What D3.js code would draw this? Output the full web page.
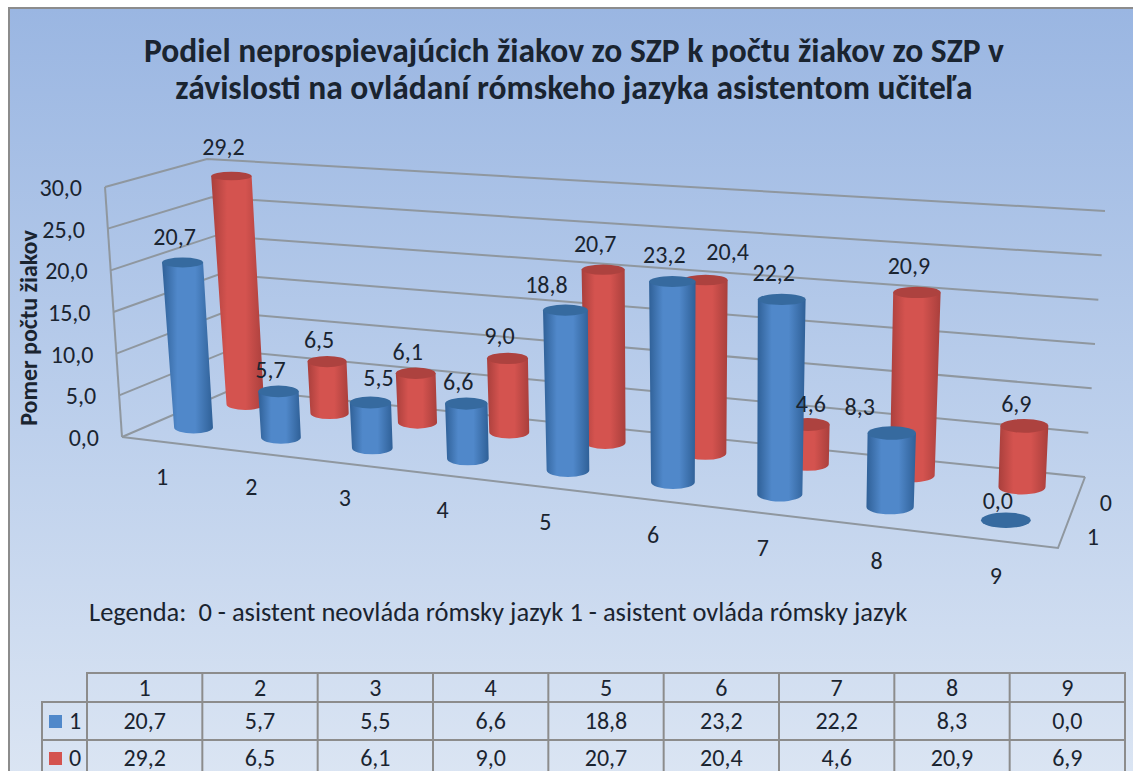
<!DOCTYPE html>
<html>
<head>
<meta charset="utf-8">
<script src="https://cdn.jsdelivr.net/npm/d3@7"></script>
<style>
html, body { margin: 0; padding: 0; background: #fff; }
svg { display: block; }
text { font-family: Carlito, "Open Sans", "Noto Sans", sans-serif; fill: #1a2430; }
</style>
</head>
<body>
<div id="chart"></div>
<script>
let categories = ["1", "2", "3", "4", "5", "6", "7", "8", "9"]
let seriesNames = ["1", "0"]
let values1 = [20.7, 5.7, 5.5, 6.6, 18.8, 23.2, 22.2, 8.3, 0.0]
let values0 = [29.2, 6.5, 6.1, 9.0, 20.7, 20.4, 4.6, 20.9, 6.9]
let valueTicks = [0, 5, 10, 15, 20, 25, 30]
let titleLines = [
	"Podiel neprospievajúcich žiakov zo SZP k počtu žiakov zo SZP v",
	"závislosti na ovládaní rómskeho jazyka asistentom učiteľa"
]
let yTitle = "Pomer počtu žiakov"
let legendText = "Legenda:  0 - asistent neovláda rómsky jazyk 1 - asistent ovláda rómsky jazyk"

let w = 1133
let h = 771
let fmt = v => v.toFixed(1).replace(".", ",")

let svg = d3.select("#chart").append("svg").attr("width", w).attr("height", h)
let defs = svg.append("defs")

// background
let bg = defs.append("linearGradient").attr("id", "bg").attr("x1", 0).attr("x2", 0).attr("y1", 0).attr("y2", 1)
bg.append("stop").attr("offset", 0).attr("stop-color", "#9ab6e2")
bg.append("stop").attr("offset", 0.55).attr("stop-color", "#bdd0ec")
bg.append("stop").attr("offset", 1).attr("stop-color", "#dbe5f3")
svg.append("rect").attr("x", 9).attr("y", 8).attr("width", w).attr("height", h)
	.attr("fill", "url(#bg)").attr("stroke", "#8c8c8c").attr("stroke-width", 2)

// box corners: floor and the plane at the axis maximum
let floorCorners = [[122, 437], [1058, 548], [1085, 477], [233, 389]]
let topCorners = [[105, 187], [1088, 262], [1105, 211], [207, 159]]

// homography from the unit square to a quad (front-left, front-right, back-right, back-left)
let quadMap = q => {
	let [[x0, y0], [x1, y1], [x2, y2], [x3, y3]] = q
	let dx1 = x1 - x2, dx2 = x3 - x2, sx = x0 - x1 + x2 - x3
	let dy1 = y1 - y2, dy2 = y3 - y2, sy = y0 - y1 + y2 - y3
	let den = dx1 * dy2 - dx2 * dy1
	let g = (sx * dy2 - dx2 * sy) / den
	let k = (dx1 * sy - sx * dy1) / den
	let a = x1 - x0 + g * x1, b = x3 - x0 + k * x3
	let d = y1 - y0 + g * y1, e = y3 - y0 + k * y3
	return (u, v) => {
		let z = g * u + k * v + 1
		return [(a * u + b * v + x0) / z, (d * u + e * v + y0) / z]
	}
}
let floorMap = quadMap(floorCorners)
let topMap = quadMap(topCorners)

let wScale = d3.scaleLinear().domain([0, 30]).range([0, 1])
let uScale = d3.scaleBand().domain(categories).range([0, 1])
let vScale = d3.scalePoint().domain(seriesNames).range([0.27, 0.75])
let uWarp = d3.scaleLinear().domain([0, 0.65, 1]).range([-0.004, 0.659, 1])

// walls use the two planes directly
let project = (u, v, val) => {
	let f = floorMap(u, v), t = topMap(u, v), k = wScale(val)
	return [f[0] + (t[0] - f[0]) * k, f[1] + (t[1] - f[1]) * k]
}

// bars stand almost upright, leaning out a little towards both sides
let leanScale = d3.scaleLinear().domain([190, 920]).range([-16, 7])
let heightFront = d3.scaleLinear().domain([0, 1]).range([240, 276])
let heightBack = d3.scaleLinear().domain([0, 1]).range([230, 266])
let projectBar = (u, v, val) => {
	let uu = uWarp(u)
	let f = floorMap(uu, v), k = wScale(val)
	let full = heightFront(uu) + (heightBack(uu) - heightFront(uu)) * v
	return [f[0] + leanScale(f[0]) * k, f[1] - full * k]
}

// walls: gridlines on side and back
let grid = svg.append("g").attr("fill", "none").attr("stroke", "#8f979f").attr("stroke-width", 2)
let line = d3.line()
valueTicks.forEach(t => {
	grid.append("path").attr("d", line([project(0, 0, t), project(0, 1, t), project(1, 1, t)]))
})
grid.append("path").attr("d", line([project(0, 0, 0), project(0, 0, 30)]))
grid.append("path").attr("d", line([project(0, 0, 0), project(1, 0, 0), project(1, 1, 0)]))

// cylinders
let colors = {
	"1": { edge: "#2f6097", mid: "#5088ca", cap: "#366a9f" },
	"0": { edge: "#a93f3c", mid: "#d4534f", cap: "#ad423f" }
}
seriesNames.forEach(s => {
	let g = defs.append("linearGradient").attr("id", "cyl" + s)
	g.append("stop").attr("offset", 0).attr("stop-color", colors[s].edge)
	g.append("stop").attr("offset", 0.3).attr("stop-color", colors[s].mid)
	g.append("stop").attr("offset", 0.65).attr("stop-color", colors[s].mid)
	g.append("stop").attr("offset", 1).attr("stop-color", colors[s].edge)
})

let radiusU = uScale.bandwidth() * 0.2
let widthBoost = d3.scaleLinear().domain([0, 0.7]).range([1.17, 1.02]).clamp(true)
let cylinders = svg.append("g")
let centreU = i => uScale(categories[i]) + uScale.bandwidth() / 2
let centre = (s, i, val) => projectBar(centreU(i), vScale(s), val)
let baseHalfWidth = (s, i) => {
	let u = uWarp(centreU(i)), v = vScale(s)
	return widthBoost(u) * (floorMap(u + radiusU, v)[0] - floorMap(u - radiusU, v)[0]) / 2
}

let drawSeries = (s, vals) => {
	vals.forEach((val, i) => {
		let b = centre(s, i, 0), t = centre(s, i, val)
		let rb = baseHalfWidth(s, i), rt = rb * (1 + 0.08 * wScale(val))
		let yb = rb * 0.31, yt = rt * (0.31 - 0.1 * wScale(val))
		if (val > 0) {
			cylinders.append("path")
				.attr("d", `M${t[0] - rt},${t[1]} L${b[0] - rb},${b[1]} A${rb},${yb} 0 0 0 ${b[0] + rb},${b[1]} L${t[0] + rt},${t[1]} Z`)
				.attr("fill", `url(#cyl${s})`)
		}
		cylinders.append("ellipse")
			.attr("cx", t[0]).attr("cy", t[1]).attr("rx", rt).attr("ry", yt)
			.attr("fill", colors[s].cap)
	})
}
drawSeries("0", values0)
drawSeries("1", values1)

// value labels sit above the tops; a few were moved in the original to dodge neighbours
let labelNudge = { "1-2": [16, -4], "1-4": [-11, 0], "0-5": [30, -2], "1-7": [-24, -4], "0-6": [11, 0] }
let labelLayer = svg.append("g").attr("font-size", 24).attr("text-anchor", "middle")
let addLabels = (s, vals) => {
	vals.forEach((val, i) => {
		let t = centre(s, i, val)
		let n = labelNudge[s + "-" + i] || [0, 0]
		labelLayer.append("text")
			.attr("x", t[0] - 8 + n[0]).attr("y", t[1] - 11 - 10 * wScale(val) + n[1])
			.text(fmt(val))
	})
}
addLabels("1", values1)
addLabels("0", values0)

// value axis labels
svg.append("g").attr("font-size", 24).attr("text-anchor", "end")
	.selectAll("text").data(valueTicks).join("text")
	.attr("x", d => project(0, 0, d)[0] - 23)
	.attr("y", d => project(0, 0, d)[1] + 9)
	.text(fmt)

// category labels below the front edge
svg.append("g").attr("font-size", 24).attr("text-anchor", "middle")
	.selectAll("text").data(categories).join("text")
	.attr("x", (d, i) => projectBar(centreU(i), 0, 0)[0])
	.attr("y", (d, i) => projectBar(centreU(i), 0, 0)[1] + 43)
	.text(d => d)

// depth labels on the right
svg.append("g").attr("font-size", 24).attr("text-anchor", "middle")
	.selectAll("text").data(seriesNames).join("text")
	.attr("x", d => project(1, vScale(d), 0)[0] + 27)
	.attr("y", d => project(1, vScale(d), 0)[1] + 18)
	.text(d => d)

// titles
svg.append("g").attr("font-size", 33.5).attr("font-weight", 700).attr("text-anchor", "middle")
	.selectAll("text").data(titleLines).join("text")
	.attr("x", 574).attr("y", (d, i) => 62 + i * 37).text(d => d)

svg.append("text").attr("font-size", 24).attr("font-weight", 700)
	.attr("text-anchor", "middle")
	.attr("transform", "translate(37,328) rotate(-90)")
	.text(yTitle)

svg.append("text").attr("x", 89).attr("y", 621).attr("font-size", 26.5).attr("xml:space", "preserve").text(legendText)

// data table
let colX = d3.scalePoint().domain(d3.range(10)).range([87, 1125])
let rowY = [673, 702, 740, 778]
let table = svg.append("g").attr("fill", "none").attr("stroke", "#8c8c8c").attr("stroke-width", 2)
table.append("path").attr("d", line([[colX(0), rowY[3]], [colX(0), rowY[0]], [colX(9), rowY[0]], [colX(9), rowY[3]]]))
table.append("path").attr("d", line([[42, rowY[3]], [42, rowY[1]], [colX(9), rowY[1]]]))
table.append("path").attr("d", line([[42, rowY[2]], [colX(9), rowY[2]]]))
d3.range(1, 9).forEach(i => table.append("path").attr("d", line([[colX(i), rowY[0]], [colX(i), rowY[3]]])))

let cell = d3.scaleBand().domain(categories).range([87, 1125])
let tableText = svg.append("g").attr("font-size", 24).attr("text-anchor", "middle")
categories.forEach((c, i) => {
	let x = cell(c) + cell.bandwidth() / 2
	tableText.append("text").attr("x", x).attr("y", 696).text(c)
	tableText.append("text").attr("x", x).attr("y", 729).text(fmt(values1[i]))
	tableText.append("text").attr("x", x).attr("y", 766).text(fmt(values0[i]))
})
seriesNames.forEach((s, i) => {
	let y = [715, 752][i]
	svg.append("rect").attr("x", 49).attr("y", y).attr("width", 13).attr("height", 13).attr("fill", colors[s].mid)
	svg.append("text").attr("x", 69).attr("y", y + 14).attr("font-size", 24).text(s)
})
</script>
</body>
</html>
